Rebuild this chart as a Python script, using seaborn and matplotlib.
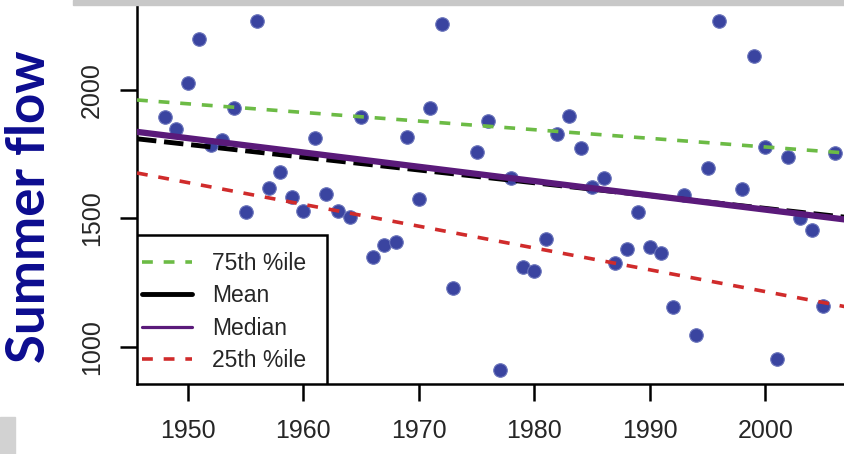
import matplotlib.pyplot as plt
import matplotlib.patches as mpatches
from matplotlib.lines import Line2D
import pandas as pd
import seaborn as sns

# Annual summer flow (1974 and 1997 missing)
years = [1948, 1949, 1950, 1951, 1952, 1953, 1954, 1955, 1956, 1957,
         1958, 1959, 1960, 1961, 1962, 1963, 1964, 1965, 1966, 1967,
         1968, 1969, 1970, 1971, 1972, 1973, 1975, 1976, 1977, 1978,
         1979, 1980, 1981, 1982, 1983, 1984, 1985, 1986, 1987, 1988,
         1989, 1990, 1991, 1992, 1993, 1994, 1995, 1996, 1998, 1999,
         2000, 2001, 2002, 2003, 2004, 2005, 2006]
flow = [1894, 1847, 2026, 2197, 1786, 1805, 1931, 1525, 2270, 1618,
        1680, 1582, 1530, 1815, 1597, 1530, 1505, 1894, 1350, 1397,
        1407, 1818, 1575, 1931, 2257, 1228, 1760, 1879, 910, 1656,
        1312, 1297, 1420, 1830, 1899, 1773, 1624, 1656, 1326, 1381,
        1525, 1390, 1365, 1157, 1591, 1047, 1695, 2268, 1616, 2133,
        1780, 952, 1738, 1500, 1455, 1160, 1754]

# fitted trend lines, values at the ends of the x range
fit_years = [1945.6, 2006.9]
fit_q75 = [1961, 1755]
fit_mean = [1810, 1505]
fit_median = [1837, 1496]
fit_q25 = [1677, 1157]

legend_labels = ["75th %ile", "Mean", "Median", "25th %ile"]
x_ticks = [1950, 1960, 1970, 1980, 1990, 2000]
y_ticks = [1000, 1500, 2000]

sns.set_style("ticks")
plt.rcParams["font.family"] = ["Liberation Sans", "DejaVu Sans"]

fig = plt.figure(figsize=(8.45, 4.54), dpi=100)
ax = fig.add_axes([137 / 845, 70 / 454, 1 - 137 / 845, 1 - 70 / 454])

df = pd.DataFrame({"year": years, "flow": flow})
sns.scatterplot(data=df, x="year", y="flow", ax=ax, s=95, color="#3a44a0",
                edgecolor="#6a74bb", linewidth=0.8, zorder=2)

fits = pd.DataFrame({"year": fit_years, "q75": fit_q75, "mean": fit_mean,
                     "median": fit_median, "q25": fit_q25})
green, red, purple = "#6cbb45", "#d02b2b", "#5a1a7a"
sns.lineplot(data=fits, x="year", y="q75", ax=ax, color=green, lw=2.6,
             linestyle=(0, (3, 3)), zorder=3)
sns.lineplot(data=fits, x="year", y="q25", ax=ax, color=red, lw=2.6,
             linestyle=(0, (3, 3)), zorder=3)
sns.lineplot(data=fits, x="year", y="mean", ax=ax, color="black", lw=3.5,
             linestyle=(0, (4, 1.6)), zorder=3)
sns.lineplot(data=fits, x="year", y="median", ax=ax, color=purple, lw=4.5,
             zorder=4)

ax.set_xlim(1945.6, 2006.9)
ax.set_ylim(856, 2350)
ax.set_xticks(x_ticks)
ax.set_yticks(y_ticks)
ax.set_xlabel("")
ax.set_ylabel("")
for s in ["top", "right"]:
    ax.spines[s].set_visible(False)
for s in ["left", "bottom"]:
    ax.spines[s].set_linewidth(1.8)
    ax.spines[s].set_color("black")
ax.tick_params(axis="both", length=12, width=1.8, color="black",
               labelsize=18, labelcolor="#262626")
ax.tick_params(axis="x", pad=13)
ax.tick_params(axis="y", pad=12, labelrotation=90)
for lab in ax.get_yticklabels():
    lab.set_va("center")

# legend box drawn as its own frame (R style, tall and narrow)
ax.add_patch(mpatches.Rectangle((0, 0), 190 / 708, 149 / 384,
                                transform=ax.transAxes, facecolor="white",
                                edgecolor="black", lw=1.8, zorder=5))
handles = [
    Line2D([], [], color=green, lw=2.6, linestyle=(0, (3, 3))),
    Line2D([], [], color="black", lw=3.5),
    Line2D([], [], color=purple, lw=2.3),
    Line2D([], [], color=red, lw=2.6, linestyle=(0, (3, 3))),
]
leg = ax.legend(handles, legend_labels, loc="center left",
                bbox_to_anchor=(5 / 708, 72 / 384), borderaxespad=0,
                borderpad=0, frameon=False, fontsize=16.5,
                handlelength=2.2, handletextpad=0.85, labelspacing=0.4)
leg.set_zorder(6)
for t in leg.get_texts():
    t.set_color("#262626")

fig.text(30 / 845, 1 - 207 / 454, "Summer flow", rotation=90, ha="center",
         va="center", fontsize=38, fontweight="bold", color="#0c0c8f",
         family=["Lato", "DejaVu Sans"])

# grey slide remnants at the edges
fig.patches.append(mpatches.Rectangle((73 / 845, 1 - 5 / 454), 1, 5 / 454,
                                      transform=fig.transFigure,
                                      color="#c8c8c8", zorder=10))
fig.patches.append(mpatches.Rectangle((0, 0), 15 / 845, 37 / 454,
                                      transform=fig.transFigure,
                                      color="#d2d2d2", zorder=10))

fig.savefig("out.png", dpi=100)
